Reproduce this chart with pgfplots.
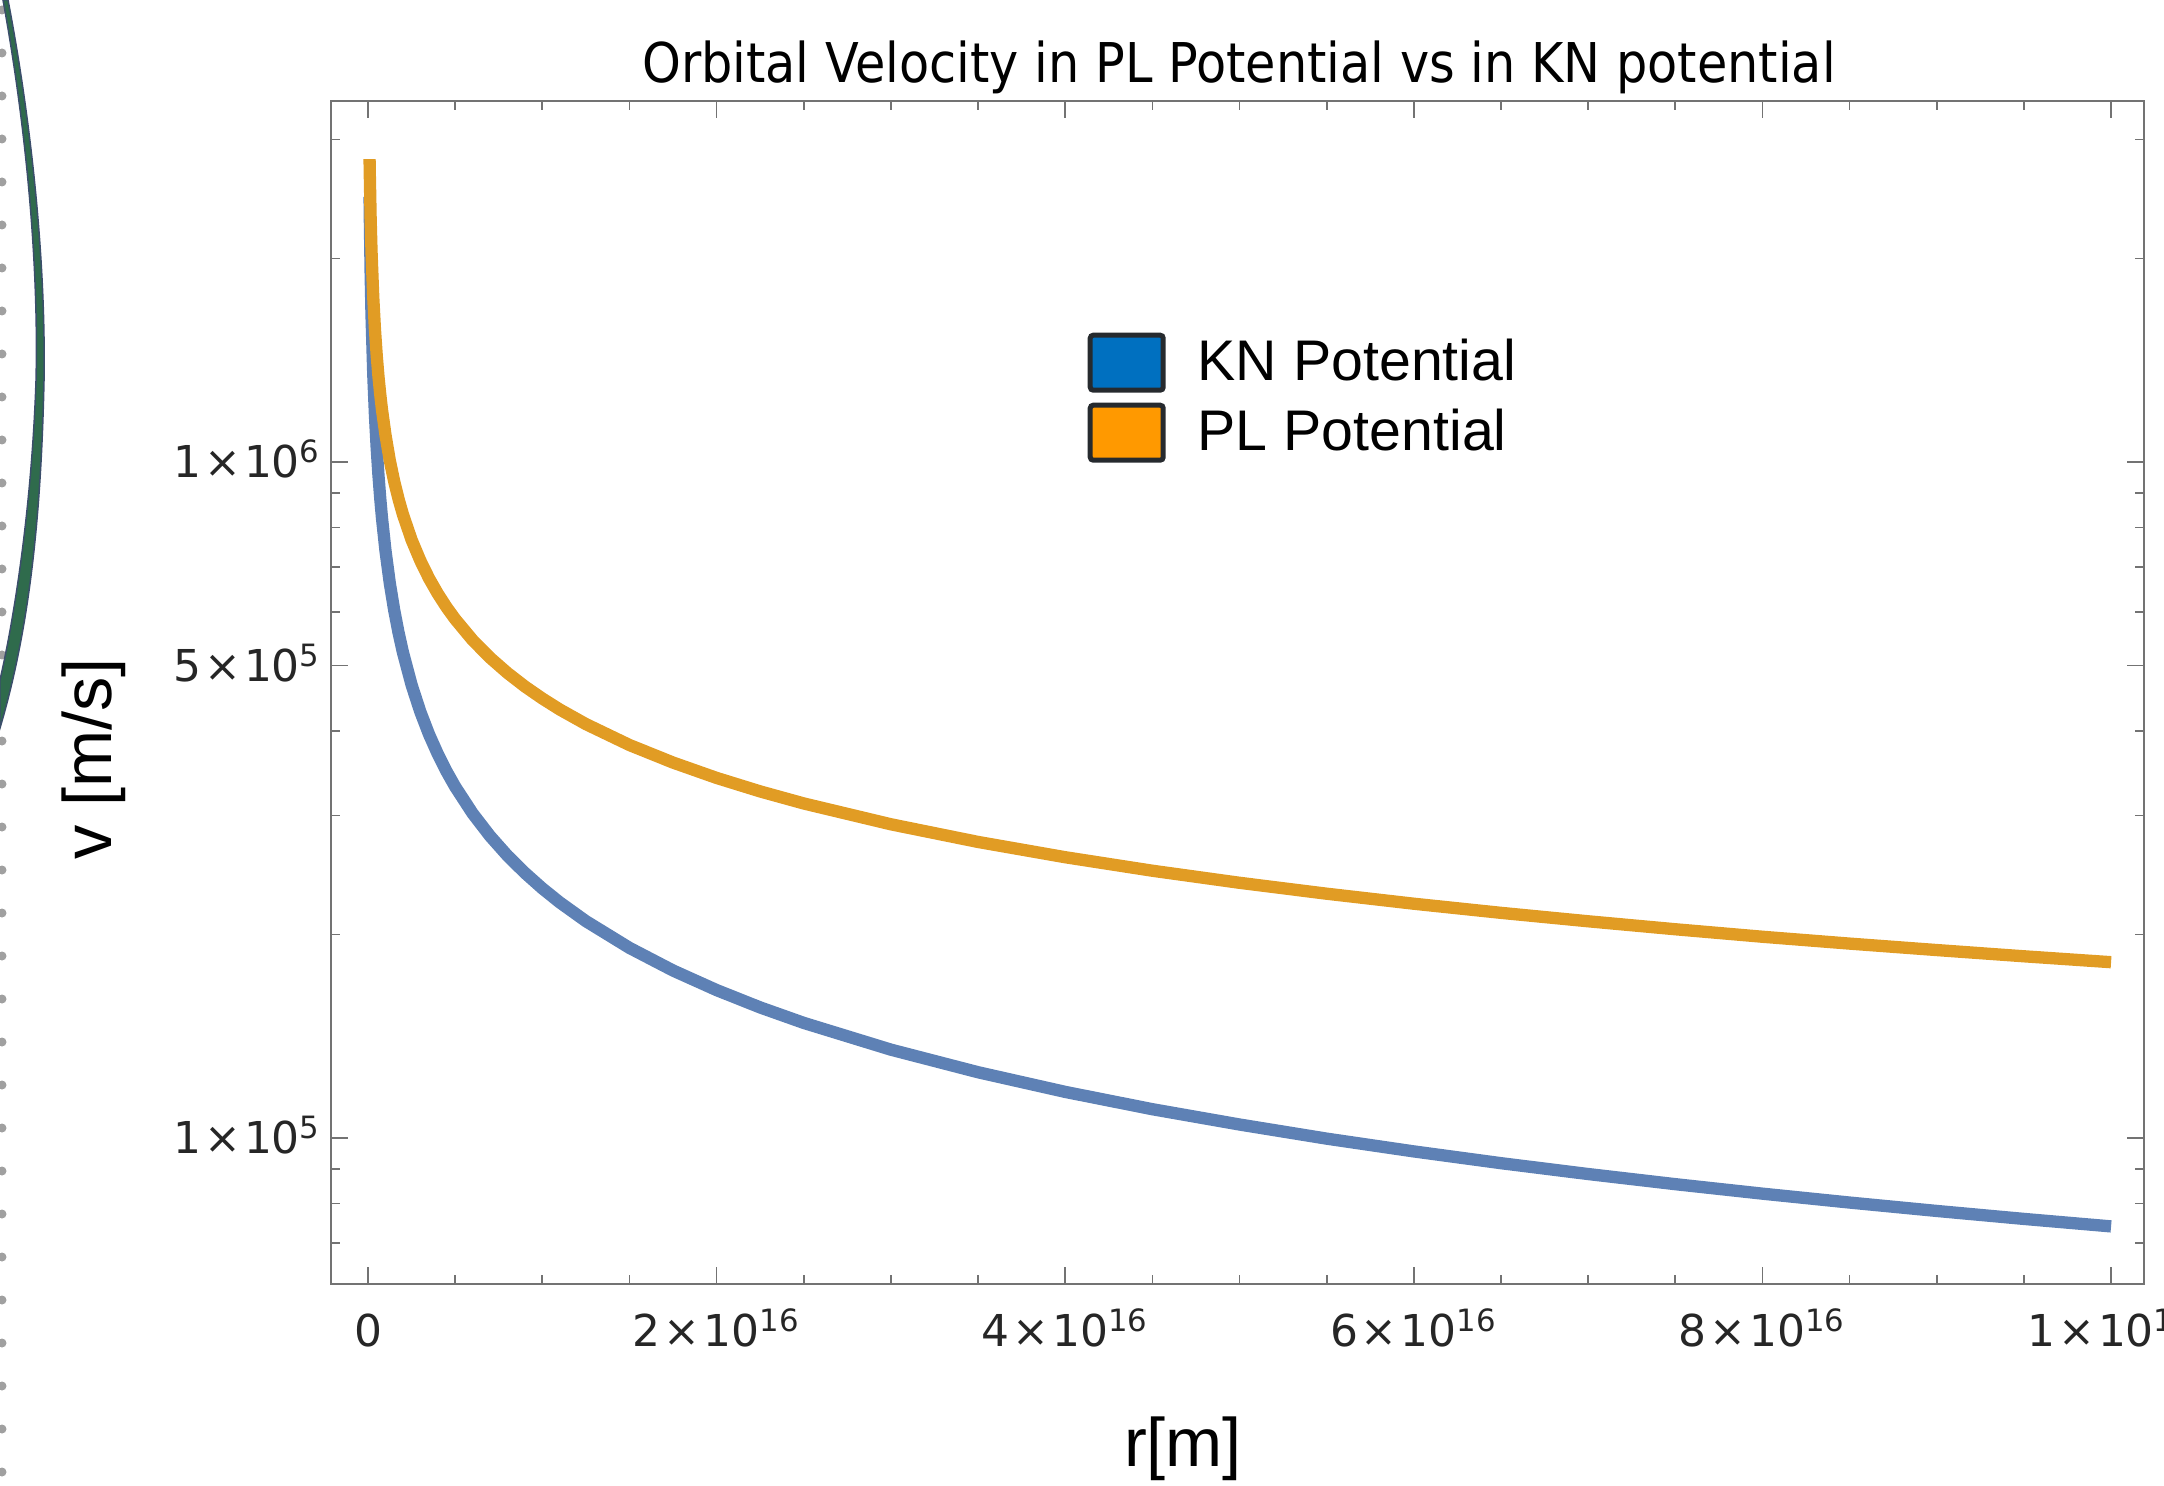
\documentclass[border=0pt]{standalone}
\usepackage{fontspec}
\setmainfont{DejaVu Sans}
\newfontfamily\labelfont{Liberation Sans}
\newfontfamily\titlefont[FakeStretch=0.9]{DejaVu Sans}
\usepackage{pgfplots}
\pgfplotsset{compat=1.18}

\definecolor{kncurve}{RGB}{94,129,181}
\definecolor{plcurve}{RGB}{225,156,36}
\definecolor{knfill}{RGB}{0,112,192}
\definecolor{plfill}{RGB}{255,153,0}
\definecolor{legedge}{RGB}{38,42,46}
\definecolor{framegray}{RGB}{115,115,115}
\definecolor{slidegreen}{RGB}{47,107,76}
\definecolor{slideedge}{RGB}{59,78,107}
\definecolor{dotgray}{RGB}{160,160,160}

\newcommand\ticksize{\fontsize{12.5pt}{15pt}\selectfont}
\newcommand\legfont{\labelfont\fontsize{16.3pt}{19pt}\selectfont}
\newcommand\labsize{\labelfont\fontsize{19.5pt}{23pt}\selectfont}
\newcommand\tm{\kern0.3mm×\kern0.3mm}

\begin{document}
\begin{tikzpicture}
\useasboundingbox (0,0) rectangle (216.4mm,148.6mm);
\clip (0,0) rectangle (216.4mm,148.6mm);

% bits of the slide the chart was cut from
\begin{scope}[x=0.1mm,y=-0.1mm,yshift=148.6mm]
  \foreach \k in {0,...,34} \fill[dotgray] (2,{10+43*\k}) circle[radius=0.45mm];
  \filldraw[fill=slidegreen,draw=slideedge,line width=0.15mm]
    (8,0) .. controls (31,120) and (46,260) .. (44,381)
          .. controls (41,520) and (29,630) .. (0,728)
    -- (0,680) .. controls (16,610) and (32,500) .. (36,381)
          .. controls (39,260) and (25,120) .. (3,0) -- cycle;
\end{scope}

\begin{axis}[
  at={(33.1mm,20.2mm)}, anchor=south west, scale only axis,
  width=181.3mm, height=118.3mm,
  xmin=-2.123e15, xmax=1.0189e17,
  ymode=log, ymin=6.083e4, ymax=3.42e6,
  scaled x ticks=false,
  xtick={0,2e16,4e16,6e16,8e16,1e17},
  xticklabels={0,2\tm10\textsuperscript{16},4\tm10\textsuperscript{16},6\tm10\textsuperscript{16},8\tm10\textsuperscript{16},1\tm10\textsuperscript{17}},
  minor xtick={5e15,1e16,1.5e16,2.5e16,3e16,3.5e16,4.5e16,5e16,5.5e16,6.5e16,7e16,7.5e16,8.5e16,9e16,9.5e16},
  ytick={1e5,5e5,1e6},
  yticklabels={1\tm10\textsuperscript{5},5\tm10\textsuperscript{5},1\tm10\textsuperscript{6}},
  minor ytick={7e4,8e4,9e4,2e5,3e5,4e5,6e5,7e5,8e5,9e5,2e6,3e6},
  tick align=inside, major tick length=1.7mm, minor tick length=0.9mm,
  tick style={framegray,line width=0.5pt},
  axis line style={framegray,line width=0.7pt},
  tick label style={font=\ticksize,text=black!85},
  xticklabel style={anchor=base,yshift=-6.3mm,inner sep=0pt},
  yticklabel style={anchor=base east,xshift=-0.9mm,yshift=-1.6mm,inner sep=0pt},
  legend style={at={(rel axis cs:0.417,0.8047)},anchor=north west,draw=none,fill=none,
    inner sep=0pt,row sep=1mm,column sep=3.2mm,font=\legfont,
    nodes={inner sep=0pt}},
  legend cell align=left,
]
\addlegendimage{legend image code/.code={\draw[line width=0.5mm,draw=legedge,fill=knfill,rounded corners=0.3mm] (0.25mm,-2.75mm) rectangle (7.55mm,2.75mm);}}
\addlegendentry{KN Potential}
\addlegendimage{legend image code/.code={\draw[line width=0.5mm,draw=legedge,fill=plfill,rounded corners=0.3mm] (0.25mm,-2.75mm) rectangle (7.55mm,2.75mm);}}
\addlegendentry{PL Potential}

% KN potential
\addplot[kncurve,line width=3.5pt,line join=round,forget plot] coordinates {
(9e13,2.467e6) (1e14,2.340e6) (1.5e14,1.911e6) (2e14,1.655e6) (3e14,1.351e6)
(4e14,1.170e6) (5e14,1.047e6) (6e14,9.554e5) (7e14,8.845e5) (8e14,8.273e5)
(1e15,7.40e5) (1.25e15,6.618e5) (1.5e15,6.042e5) (1.75e15,5.594e5) (2e15,5.233e5)
(2.5e15,4.680e5) (3e15,4.272e5) (3.5e15,3.955e5) (4e15,3.70e5) (4.5e15,3.488e5)
(5e15,3.309e5) (6e15,3.021e5) (7e15,2.797e5) (8e15,2.616e5) (9e15,2.467e5)
(1e16,2.340e5) (1.1e16,2.231e5) (1.25e16,2.093e5) (1.5e16,1.911e5) (1.75e16,1.769e5)
(2e16,1.655e5) (2.25e16,1.560e5) (2.5e16,1.48e5) (3e16,1.351e5) (3.5e16,1.251e5)
(4e16,1.170e5) (4.5e16,1.103e5) (5e16,1.047e5) (5.5e16,9.978e4) (6e16,9.553e4)
(6.5e16,9.178e4) (7e16,8.845e4) (7.5e16,8.545e4) (8e16,8.273e4) (8.5e16,8.026e4)
(9e16,7.80e4) (9.5e16,7.592e4) (1e17,7.40e4)};

% PL potential
\addplot[plcurve,line width=3.5pt,line join=round,forget plot] coordinates {
(9e13,2.805e6) (1e14,2.692e6) (1.5e14,2.298e6) (2e14,2.055e6) (3e14,1.754e6)
(4e14,1.568e6) (5e14,1.437e6) (6e14,1.338e6) (7e14,1.260e6) (8e14,1.196e6)
(1e15,1.097e6) (1.25e15,1.005e6) (1.5e15,9.364e5) (1.75e15,8.817e5) (2e15,8.368e5)
(2.5e15,7.671e5) (3e15,7.147e5) (3.5e15,6.728e5) (4e15,6.387e5) (4.5e15,6.100e5)
(5e15,5.855e5) (6e15,5.452e5) (7e15,5.134e5) (8e15,4.874e5) (9e15,4.655e5)
(1e16,4.468e5) (1.1e16,4.304e5) (1.25e16,4.095e5) (1.5e16,3.814e5) (1.75e16,3.592e5)
(2e16,3.409e5) (2.25e16,3.256e5) (2.5e16,3.125e5) (3e16,2.911e5) (3.5e16,2.741e5)
(4e16,2.602e5) (4.5e16,2.485e5) (5e16,2.385e5) (5.5e16,2.298e5) (6e16,2.221e5)
(6.5e16,2.153e5) (7e16,2.092e5) (7.5e16,2.036e5) (8e16,1.985e5) (8.5e16,1.939e5)
(9e16,1.897e5) (9.5e16,1.857e5) (1e17,1.82e5)};
\end{axis}

\node[anchor=base,font=\titlefont\fontsize{15.6pt}{18pt}\selectfont] at (123.9mm,140.3mm)
  {Orbital Velocity in PL Potential vs in KN potential};
\node[anchor=base,font=\labsize] at (118.3mm,1.9mm) {r[m]};
\node[anchor=base,rotate=90,font=\labsize] at (11.2mm,72.7mm) {v [m/s]};
\end{tikzpicture}
\end{document}
